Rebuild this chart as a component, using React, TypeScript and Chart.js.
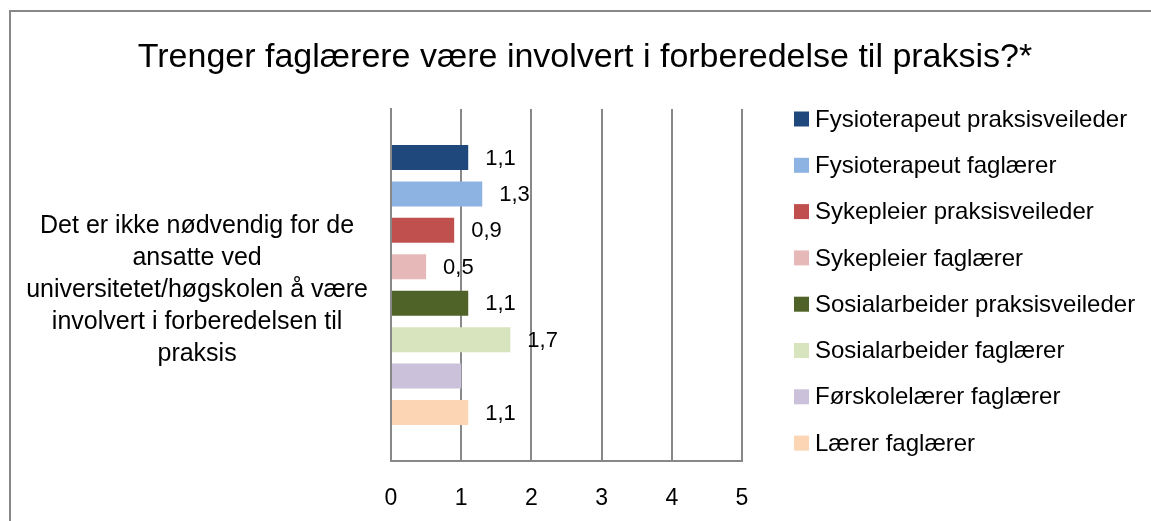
import React, { useEffect, useRef } from "react";
import { Chart, registerables } from "chart.js";

Chart.register(...registerables);

const TITLE = "Trenger faglærere være involvert i forberedelse til praksis?*";

const categoryLines = [
  [
    "Det er ikke nødvendig for de",
    "ansatte ved",
    "universitetet/høgskolen å være",
    "involvert i forberedelsen til",
    "praksis",
  ],
];

const seriesNames = [
  "Fysioterapeut praksisveileder",
  "Fysioterapeut faglærer",
  "Sykepleier praksisveileder",
  "Sykepleier faglærer",
  "Sosialarbeider praksisveileder",
  "Sosialarbeider faglærer",
  "Førskolelærer faglærer",
  "Lærer faglærer",
];

const seriesValues = [1.1, 1.3, 0.9, 0.5, 1.1, 1.7, 1.0, 1.1];

const showValueLabel = [true, true, true, true, true, true, false, true];

const seriesColors = [
  "#1F497D",
  "#8DB3E2",
  "#C0504D",
  "#E6B9B8",
  "#4F6228",
  "#D7E4BD",
  "#CCC1DA",
  "#FCD5B5",
];

const xTickMin = 0;
const xTickMax = 5;
const xTickStep = 1;

const FONT = "'Liberation Sans', Arial, sans-serif";
const GRID = "#888888";

const framePlugin = {
  id: "frame",
  beforeDraw(chart: any) {
    const ctx = chart.ctx;
    ctx.save();
    ctx.fillStyle = "#ffffff";
    ctx.fillRect(0, 0, chart.width, chart.height);
    ctx.strokeStyle = GRID;
    ctx.lineWidth = 2;
    ctx.beginPath();
    ctx.moveTo(10, chart.height);
    ctx.lineTo(10, 11);
    ctx.lineTo(chart.width, 11);
    ctx.stroke();
    ctx.restore();
  },
};

const titlePlugin = {
  id: "centeredTitle",
  afterDraw(chart: any) {
    const ctx = chart.ctx;
    ctx.save();
    ctx.font = `34px ${FONT}`;
    ctx.fillStyle = "#000000";
    ctx.textAlign = "center";
    ctx.textBaseline = "middle";
    ctx.fillText(TITLE, 585, 58);
    ctx.restore();
  },
};

const valueLabelPlugin = {
  id: "valueLabels",
  afterDatasetsDraw(chart: any) {
    const ctx = chart.ctx;
    ctx.save();
    ctx.font = `22px ${FONT}`;
    ctx.fillStyle = "#000000";
    ctx.textAlign = "left";
    ctx.textBaseline = "middle";
    chart.data.datasets.forEach((ds: any, i: number) => {
      if (!showValueLabel[i]) return;
      const meta = chart.getDatasetMeta(i);
      meta.data.forEach((el: any, j: number) => {
        const v = ds.data[j];
        const txt = v.toFixed(1).replace(".", ",");
        ctx.fillText(txt, el.x + 17, el.y + 1);
      });
    });
    ctx.restore();
  },
};

const legendPlugin = {
  id: "sideLegend",
  afterDraw(chart: any) {
    const ctx = chart.ctx;
    const area = chart.chartArea;
    const x0 = area.right + 52;
    const y0 = area.top + 10;
    const step = 46.3;
    ctx.save();
    ctx.font = `24px ${FONT}`;
    ctx.textAlign = "left";
    ctx.textBaseline = "middle";
    chart.data.datasets.forEach((ds: any, i: number) => {
      const cy = y0 + i * step;
      ctx.fillStyle = ds.backgroundColor;
      ctx.fillRect(x0, cy - 7.5, 15, 15);
      ctx.fillStyle = "#000000";
      ctx.fillText(ds.label, x0 + 21, cy + 1);
    });
    ctx.restore();
  },
};

export default function App() {
  const canvasRef = useRef<HTMLCanvasElement | null>(null);

  useEffect(() => {
    document.body.style.margin = "0";
    const canvas = canvasRef.current;
    if (!canvas) return;
    const chart = new Chart(canvas, {
      type: "bar",
      data: {
        labels: categoryLines as any,
        datasets: seriesNames.map((name, i) => ({
          label: name,
          data: [seriesValues[i]],
          backgroundColor: seriesColors[i],
          borderWidth: 0,
          categoryPercentage: 0.828,
          barPercentage: 0.687,
        })),
      },
      options: {
        indexAxis: "y",
        animation: false,
        responsive: false,
        devicePixelRatio: 1,
        layout: { padding: { left: 0, right: 409, top: 109, bottom: 0 } },
        plugins: {
          legend: { display: false },
          tooltip: { enabled: false },
          title: { display: false },
        },
        scales: {
          x: {
            type: "linear",
            min: xTickMin,
            max: xTickMax,
            ticks: {
              stepSize: xTickStep,
              color: "#000000",
              font: { family: FONT, size: 23 },
              padding: 24,
            },
            grid: { color: GRID, lineWidth: 2, drawTicks: false },
            border: { color: GRID, width: 2 },
            afterFit: (scale: any) => {
              scale.height = 60;
              scale.paddingLeft = 0;
              scale.paddingRight = 0;
            },
          },
          y: {
            type: "category",
            ticks: {
              color: "#000000",
              font: { family: FONT, size: 25, lineHeight: 1.28 },
              crossAlign: "center",
              padding: 23,
              labelOffset: 5,
            },
            grid: { display: false, drawTicks: false },
            border: { color: GRID, width: 2 },
            afterFit: (scale: any) => {
              scale.width = 391;
              scale.paddingTop = 0;
              scale.paddingBottom = 0;
            },
          },
        },
      } as any,
      plugins: [framePlugin, valueLabelPlugin, legendPlugin, titlePlugin],
    });
    return () => chart.destroy();
  }, []);

  return (
    <div style={{ width: 1151, height: 521 }}>
      <canvas ref={canvasRef} width={1151} height={521} style={{ display: "block" }} />
    </div>
  );
}
